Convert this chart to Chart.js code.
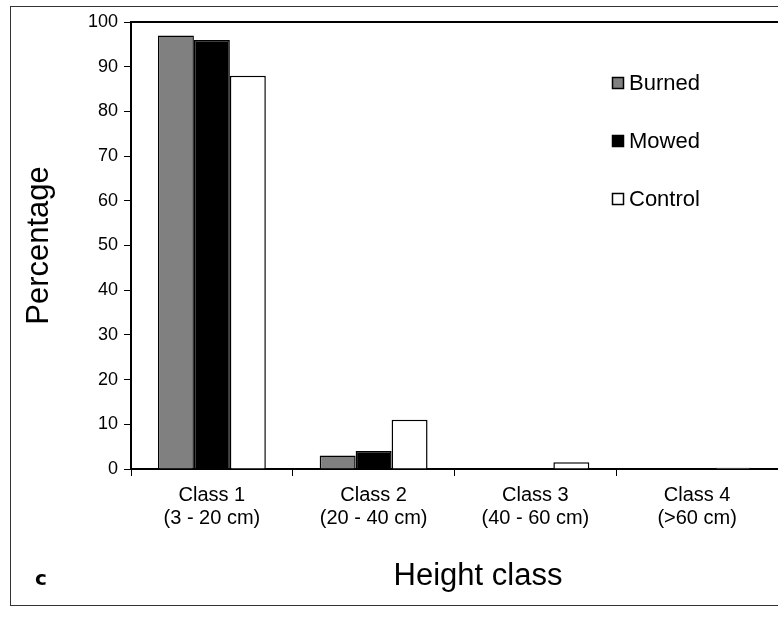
<!DOCTYPE html>
<html>
<head>
<meta charset="utf-8">
<script src="https://cdn.jsdelivr.net/npm/chart.js@4.4.1/dist/chart.umd.min.js"></script>
<style>
    html, body { margin: 0; padding: 0; background: #fff; overflow: hidden; }
    #frame { position: absolute; left: 10px; top: 6px; width: 790px; height: 598px; border: 1px solid #333; }
    #wrap { position: absolute; left: 0; top: 0; width: 778px; height: 618px; }
</style>
</head>
<body>
<div id="frame"></div>
<div id="wrap"><canvas id="chart"></canvas></div>
<script>
// Data
const classes = [['Class 1', '(3 - 20 cm)'], ['Class 2', '(20 - 40 cm)'], ['Class 3', '(40 - 60 cm)'], ['Class 4', '(>60 cm)']];
const burned = [97, 3, 0, 0];
const mowed = [96, 4, 0, 0];
const control = [88, 11, 1.5, 0.3];
const yTicks = [0, 10, 20, 30, 40, 50, 60, 70, 80, 90, 100];

const FONT = "'Liberation Sans', Arial, sans-serif";

// Draws the legend, plot top border, x title and panel letter
const extrasPlugin = {
    id: 'extras',
    afterDraw(chart) {
        const ctx = chart.ctx;
        const area = chart.chartArea;
        ctx.save();
        // top border of plot area
        ctx.strokeStyle = '#000';
        ctx.lineWidth = 2;
        ctx.beginPath();
        ctx.moveTo(area.left, area.top);
        ctx.lineTo(area.right + 5, area.top);
        ctx.stroke();

        // legend
        ctx.font = '22px ' + FONT;
        ctx.textBaseline = 'middle';
        chart.data.datasets.forEach(function (ds, i) {
            const y = 83 + i * 58;
            ctx.fillStyle = ds.backgroundColor;
            ctx.fillRect(612, y - 6, 12, 12);
            ctx.lineWidth = 1.5;
            ctx.strokeStyle = '#000';
            ctx.strokeRect(612.5, y - 5.5, 11, 11);
            ctx.fillStyle = '#000';
            ctx.fillText(ds.label, 629, y + 1);
        });

        // x axis title (centred on the original, wider figure)
        ctx.font = '31px ' + FONT;
        ctx.textAlign = 'center';
        ctx.fillText('Height class', 478, 576);

        // panel letter
        ctx.textAlign = 'left';
        ctx.font = 'bold 20px "DejaVu Sans", sans-serif';
        ctx.fillText('c', 35, 580);
        ctx.restore();
    }
};

new Chart(document.getElementById('chart'), {
    type: 'bar',
    data: {
        labels: classes,
        datasets: [
            { label: 'Burned', data: burned, backgroundColor: '#808080' },
            { label: 'Mowed', data: mowed, backgroundColor: '#000000' },
            { label: 'Control', data: control, backgroundColor: '#ffffff' }
        ].map(function (d) {
            return Object.assign(d, { borderColor: '#000', borderWidth: 1.5, categoryPercentage: 0.667, barPercentage: 1.0 });
        })
    },
    options: {
        responsive: true,
        maintainAspectRatio: false,
        animation: false,
        layout: { padding: { top: 22, right: 0, left: 0, bottom: 12 } },
        plugins: {
            legend: { display: false },
            tooltip: { enabled: false }
        },
        scales: {
            x: {
                afterFit: function (scale) { scale.height = 137; },
                grid: { offset: true, drawOnChartArea: false, color: '#000', tickLength: 7, tickWidth: 1 },
                border: { color: '#000', width: 2 },
                ticks: { color: '#000', font: { family: FONT, size: 20, lineHeight: 1.15 }, padding: 8, maxRotation: 0 }
            },
            y: {
                min: 0,
                max: 100,
                afterBuildTicks: function (scale) {
                    scale.ticks = yTicks.map(function (v) { return { value: v }; });
                },
                afterFit: function (scale) { scale.width = 131; },
                grid: { drawOnChartArea: false, color: '#000', tickLength: 7 },
                border: { color: '#000', width: 2 },
                ticks: { color: '#000', font: { family: FONT, size: 18 }, padding: 6 },
                title: { display: true, text: 'Percentage', color: '#000', font: { family: FONT, size: 31, lineHeight: 1.2 }, padding: { top: 21, bottom: 0 } }
            }
        }
    },
    plugins: [extrasPlugin]
});
</script>
</body>
</html>
